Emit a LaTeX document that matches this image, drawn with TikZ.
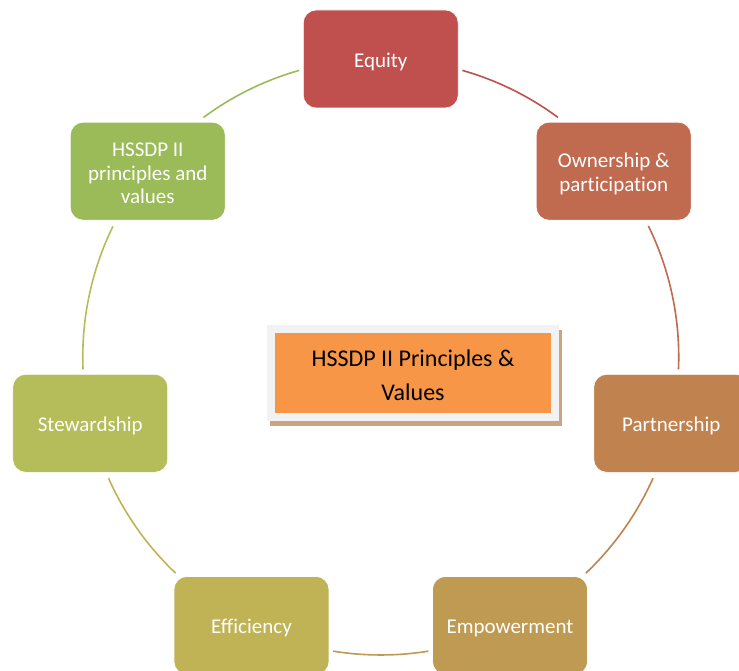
\documentclass[tikz,border=0pt]{standalone}
\usepackage{fontspec}
\setmainfont[Ligatures=NoCommon]{Carlito}
\definecolor{cEq}{HTML}{C0504D}
\definecolor{cOw}{HTML}{C06A4F}
\definecolor{cPa}{HTML}{C08350}
\definecolor{cEm}{HTML}{BF9A53}
\definecolor{cEf}{HTML}{BFB356}
\definecolor{cSt}{HTML}{B4BD59}
\definecolor{cHs}{HTML}{9BBB59}
\definecolor{cShadow}{HTML}{CDA482}
\definecolor{cFrame}{HTML}{F2F2F2}
\definecolor{cOrange}{HTML}{F79646}
\begin{document}
\begin{tikzpicture}[x=1pt,y=1pt,
  box/.style={rounded corners=13pt, minimum width=155pt, minimum height=98pt,
    inner sep=2pt, draw=white, line width=0.6pt},
  boxtext/.style={text=white, font=\fontsize{21}{23.5}\selectfont, align=center,
    yshift=-2.5pt, inner sep=0pt},
  link/.style={line width=1.6pt},
  plain/.style={inner sep=0pt, minimum width=292pt, minimum height=96pt}]
\useasboundingbox (0,0) rectangle (739,671);
\clip (0,0) rectangle (739,671);
\coordinate (c) at (380.75,314);
% boxes
\path (c) ++(90:298)      node[box, fill=cEq, label={[boxtext]center:Equity}] (eq) {};
\path (c) ++(38.57:298)   node[box, fill=cOw, label={[boxtext]center:{Ownership \&\\participation}}] (ow) {};
\path (c) ++(-12.86:298)  node[box, fill=cPa, label={[boxtext]center:Partnership}] (pa) {};
\path (c) ++(-64.29:298)  node[box, fill=cEm, label={[boxtext]center:Empowerment}] (em) {};
\path (c) ++(-115.71:298) node[box, fill=cEf, label={[boxtext]center:Efficiency}] (ef) {};
\path (c) ++(-167.14:298) node[box, fill=cSt, label={[boxtext]center:Stewardship}] (st) {};
\path (c) ++(141.43:298)  node[box, fill=cHs, label={[boxtext]center:{HSSDP II\\principles and\\values}}] (hs) {};
% connecting arcs
\draw[link, draw=cHs] (c) ++(126.5:298) arc[start angle=126.5, end angle=105.9, radius=298];
\draw[link, draw=cEq] (c) ++(74.1:298) arc[start angle=74.1, end angle=53.5, radius=298];
\draw[link, draw=cOw] (c) ++(26.1:298) arc[start angle=26.1, end angle=-2.4, radius=298];
\draw[link, draw=cPa] (c) ++(-24:298) arc[start angle=-24, end angle=-46.5, radius=298];
\draw[link, draw=cEm] (c) ++(-80.8:298) arc[start angle=-80.8, end angle=-99.2, radius=298];
\draw[link, draw=cEf] (c) ++(-133.5:298) arc[start angle=-133.5, end angle=-156, radius=298];
\draw[link, draw=cSt] (c) ++(-177.6:298) arc[start angle=-177.6, end angle=-206, radius=298];
% centre box
\node[plain, fill=cShadow] (sh) at (416,292.5) {};
\node[plain, fill=cFrame] (fr) at (413,298) {};
\node[inner sep=0pt, minimum width=276pt, minimum height=80pt, fill=cOrange] (ctr) at (413,298) {};
\node[text=black, align=center, inner sep=0pt, font=\fontsize{24}{34}\selectfont]
  (ctrtext) at ([yshift=-2.5pt]ctr.center) {HSSDP II Principles \&\\Values};
\end{tikzpicture}
\end{document}
